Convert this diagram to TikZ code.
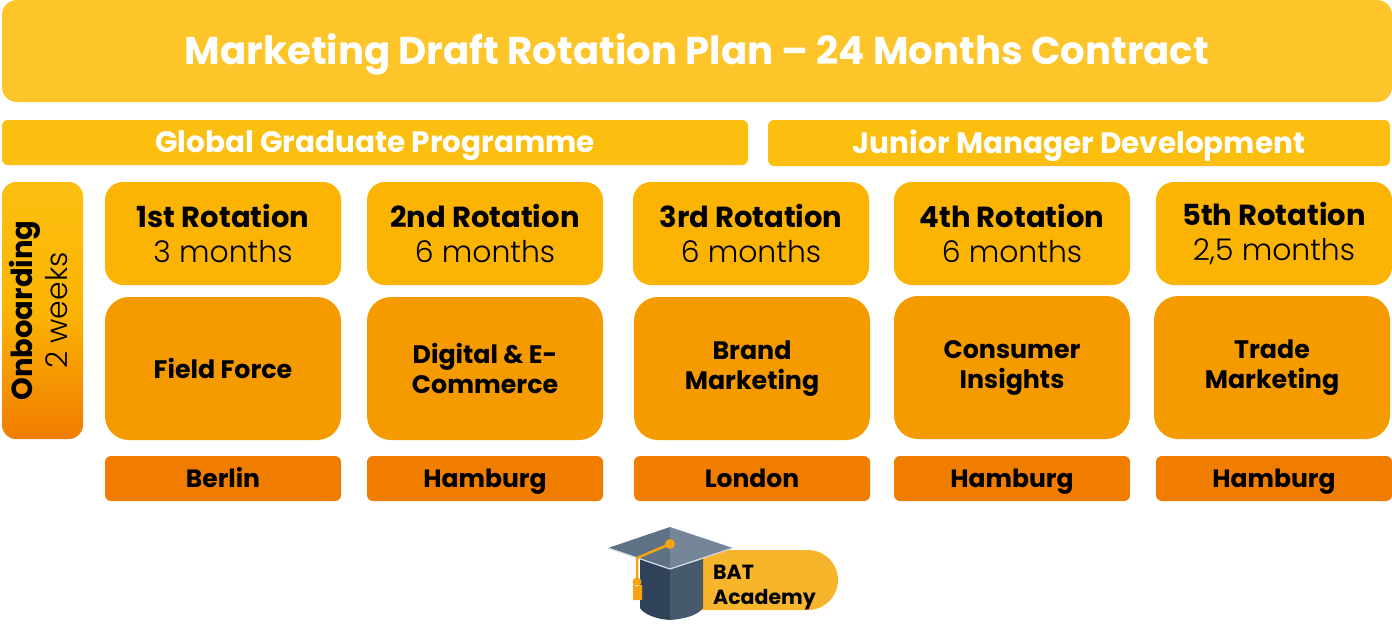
\documentclass[tikz,border=0pt]{standalone}
\usepackage{fontspec}
\setmainfont{Poppins}
\newfontfamily\lightfont[Scale=1.03]{Poppins Light}
\definecolor{titlecol}{HTML}{FDC529}
\definecolor{progcol}{HTML}{FCBF10}
\definecolor{rotcol}{HTML}{FBB404}
\definecolor{unitcol}{HTML}{F59B00}
\definecolor{citycol}{HTML}{F07C00}
\definecolor{badgecol}{HTML}{F7B52C}
\definecolor{capdark}{HTML}{5F7184}
\definecolor{caplight}{HTML}{748698}
\definecolor{bodyleft}{HTML}{2F4259}
\definecolor{bodyright}{HTML}{47596C}
\definecolor{tasselcol}{HTML}{F5A40F}
\newcommand{\boxstrut}{\rule[-0.3em]{0pt}{1.3em}}
\newcommand{\twostrut}{\rule{0pt}{1.1em}}
\tikzset{
  box/.style={inner sep=0pt,align=center,text=black},
  oneline/.style={box,execute at begin node=\boxstrut},
  twoline/.style={box,execute at begin node=\twostrut},
  titlebox/.style={oneline,fill=titlecol,rounded corners=15,minimum width=1390,minimum height=102,text=white,font=\bfseries\fontsize{38.7}{40}\selectfont},
  progbox/.style={oneline,fill=progcol,rounded corners=6,minimum height=45,text=white,font=\bfseries\fontsize{29.5}{32}\selectfont},
  rotbox/.style={twoline,fill=rotcol,rounded corners=18,minimum width=236,minimum height=103,font=\fontsize{29}{35}\selectfont},
  unitbox/.style={twoline,fill=unitcol,rounded corners=24,minimum width=236,minimum height=143,font=\bfseries\fontsize{25.3}{30}\selectfont},
  citybox/.style={oneline,fill=citycol,rounded corners=6,minimum width=236,minimum height=45,font=\bfseries\fontsize{25}{30}\selectfont},
  onbbox/.style={oneline,rotate=90,rounded corners=14,minimum width=257,minimum height=81,top color=progcol,bottom color=citycol,middle color=rotcol,font=\fontsize{29}{35}\selectfont},
}
\begin{document}
\begin{tikzpicture}[x=1pt,y=-1pt]
  \useasboundingbox (0,0) rectangle (1392,624);
  % Header
  \node[titlebox] (title) at (697,51) {Marketing Draft Rotation Plan – 24 Months Contract};
  \node[progbox,minimum width=746] (ggp) at (375,142.5) {Global Graduate Programme};
  \node[progbox,minimum width=622,minimum height=46] (jmd) at (1079,143) {Junior Manager Development};
  % Onboarding
  \node[onbbox] (onb) at (42.5,310.5) {{\bfseries Onboarding}\\{\lightfont 2 weeks}};
  % Columns
  \foreach \rx/\ux/\cx/\uy/\name/\len/\unit/\city in {
    223/223/223/368.5/1st/3 months/\boxstrut Field Force/Berlin,
    485/485/485/368.5/2nd/6 months/Digital \& E-\\Commerce/Hamburg,
    751/752/752/368.5/3rd/6 months/Brand\\Marketing/London,
    1012/1012/1012/367.5/4th/6 months/Consumer\\Insights/Hamburg,
    1274/1272/1274/367.5/5th/{2,5 months}/Trade\\Marketing/Hamburg}{
    \node[rotbox] (rot\name) at (\rx,233.5) {{\bfseries \name\ Rotation}\\{\lightfont \len}};
    \node[unitbox] (unit\name) at (\ux,\uy) {\unit};
    \node[citybox] (city\name) at (\cx,478.5) {\city};
  }
  % Badge
  \fill[badgecol] (700,550) -- (808,550) arc (-90:90:30) -- (700,610) -- cycle;
  \node[oneline,align=left,anchor=west,font=\bfseries\fontsize{20.5}{25}\selectfont] (bat) at (713,587.5) {BAT\\Academy};
  % Cap
  \fill[bodyleft] (640,559) -- (670,569) -- (670,620) .. controls (655,619) and (644,614) .. (640,608) -- cycle;
  \fill[bodyright] (670,569) -- (703,559) -- (703,608) .. controls (698,615) and (685,619) .. (670,620) -- cycle;
  \fill[capdark] (608,548) -- (670,527) -- (670,569) -- cycle;
  \fill[caplight] (670,527) -- (733,548) -- (670,569) -- cycle;
  \draw[white!75!capdark,line width=1.2] (608,548) -- (670,569) -- (733,548);
  % Tassel
  \draw[tasselcol,line width=2.5,line join=round] (670,544) -- (637,558) -- (637,582);
  \fill[tasselcol] (670,544) circle (5) (637,582) circle (4.5) (633,585) rectangle (642,600);
\end{tikzpicture}
\end{document}
